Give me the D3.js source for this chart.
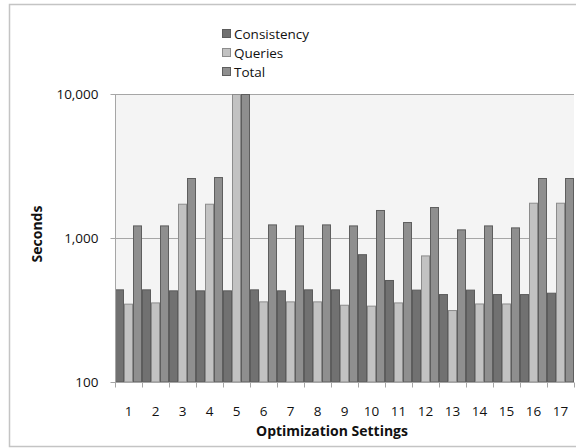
<!DOCTYPE html>
<html>
<head>
<meta charset="utf-8">
<script src="https://cdn.jsdelivr.net/npm/d3@7"></script>
<style>
  html, body { margin: 0; padding: 0; background: #fff; }
  svg { display: block; }
  text { font-family: "Open Sans", "Noto Sans", sans-serif; fill: #111; }
</style>
</head>
<body>
<svg id="chart" width="576" height="448"></svg>
<script>
const categories = ["1","2","3","4","5","6","7","8","9","10","11","12","13","14","15","16","17"];
const seriesNames = ["Consistency", "Queries", "Total"];
const consistency = [440, 440, 433, 433, 433, 440, 433, 440, 440, 772, 511, 438, 408, 438, 408, 408, 417];
const queries     = [350, 357, 1730, 1730, 10000, 363, 363, 363, 344, 339, 357, 757, 316, 351, 351, 1758, 1758];
const total       = [1223, 1223, 2610, 2650, 10000, 1243, 1223, 1243, 1223, 1565, 1291, 1641, 1148, 1223, 1185, 2610, 2610];
const yTicks = [100, 1000, 10000];
const colors = ["#717171", "#c2c2c2", "#8f8f8f"];
const strokes = ["#5c5c5c", "#8c8c8c", "#5e5e5e"];

(function () {
const svg = d3.select("#chart");
const pLeft = 115, pRight = 574, pTop = 94, pBottom = 382;

// outer chart border
svg.append("rect").attr("x", 9.5).attr("y", 4.5).attr("width", 600).attr("height", 442)
  .attr("fill", "#fff").attr("stroke", "#c4c4c4").attr("stroke-width", 1.5);

const x = d3.scaleBand().domain(categories).range([pLeft, pRight]).padding(0);
const xs = d3.scaleBand().domain(seriesNames).range([0, x.bandwidth()]).padding(0);
const y = d3.scaleLog().domain([100, 10000]).range([pBottom, pTop]);

// plot background
svg.append("rect").attr("x", pLeft).attr("y", pTop).attr("width", pRight - pLeft).attr("height", pBottom - pTop)
  .attr("fill", "#f4f4f4");

// gridlines
svg.append("g").selectAll("line").data(yTicks.slice(1)).join("line")
  .attr("x1", pLeft).attr("x2", pRight)
  .attr("y1", d => Math.round(y(d)) + 0.5).attr("y2", d => Math.round(y(d)) + 0.5)
  .attr("stroke", "#a6a6a6").attr("stroke-width", 1);

svg.append("clipPath").attr("id", "plotclip").append("rect")
  .attr("x", pLeft).attr("y", pTop).attr("width", pRight - pLeft + 2).attr("height", pBottom - pTop);

const data = categories.map((c, i) => ({ c, vals: [consistency[i], queries[i], total[i]] }));
const bars = svg.append("g").attr("clip-path", "url(#plotclip)");
data.forEach(d => {
  d.vals.forEach((v, j) => {
    const bx = x(d.c) + xs(seriesNames[j]);
    bars.append("rect")
      .attr("x", bx + 0.5).attr("y", y(v) + 0.5)
      .attr("width", xs.bandwidth() - 1).attr("height", Math.max(0, y(100) - y(v) - 0.5))
      .attr("fill", colors[j]).attr("stroke", strokes[j]).attr("stroke-width", 1);
  });
});

// y axis
const yAxis = d3.axisLeft(y).tickValues(yTicks).tickFormat(d3.format(",")).tickSize(5).tickPadding(12);
const gy = svg.append("g").attr("transform", `translate(${pLeft + 0.5},0)`).call(yAxis);
gy.select(".domain").attr("stroke", "#a6a6a6").attr("d", `M0,${pTop}V${pBottom}`);
gy.selectAll(".tick line").attr("stroke", "#a6a6a6");
gy.selectAll(".tick text").style("font-size", "13.5px").style("font-family", "Open Sans").attr("fill", "#111");

// x axis
const gx = svg.append("g").attr("transform", `translate(0,${pBottom + 0.5})`);
gx.append("line").attr("x1", pLeft).attr("x2", pRight).attr("y1", 0).attr("y2", 0).attr("stroke", "#a6a6a6");
const bounds = categories.map(c => x(c)).concat([pRight]);
gx.selectAll("line.tk").data(bounds).join("line").attr("class", "tk")
  .attr("x1", d => Math.round(d) + 0.5).attr("x2", d => Math.round(d) + 0.5)
  .attr("y1", 0).attr("y2", 5).attr("stroke", "#a6a6a6");
gx.selectAll("text").data(categories).join("text")
  .attr("x", d => x(d) + x.bandwidth() / 2).attr("y", 33.5)
  .attr("text-anchor", "middle").style("font-size", "13.5px").text(d => d);

// axis titles
svg.append("text").attr("x", 332).attr("y", 435.5)
  .attr("text-anchor", "middle").style("font-size", "14px").style("font-weight", "bold")
  .text("Optimization Settings");
svg.append("text").attr("transform", `translate(41.5,234) rotate(-90)`)
  .attr("text-anchor", "middle").style("font-size", "14px").style("font-weight", "bold")
  .text("Seconds");

// legend
const lg = svg.append("g");
seriesNames.forEach((s, i) => {
  const cy = 34 + i * 19;
  lg.append("rect").attr("x", 222.5).attr("y", cy - 4.5).attr("width", 8).attr("height", 8)
    .attr("fill", colors[i]).attr("stroke", strokes[i]);
  lg.append("text").attr("x", 234).attr("y", cy + 5).style("font-size", "13.5px").text(s);
});
})();
</script>
</body>
</html>
